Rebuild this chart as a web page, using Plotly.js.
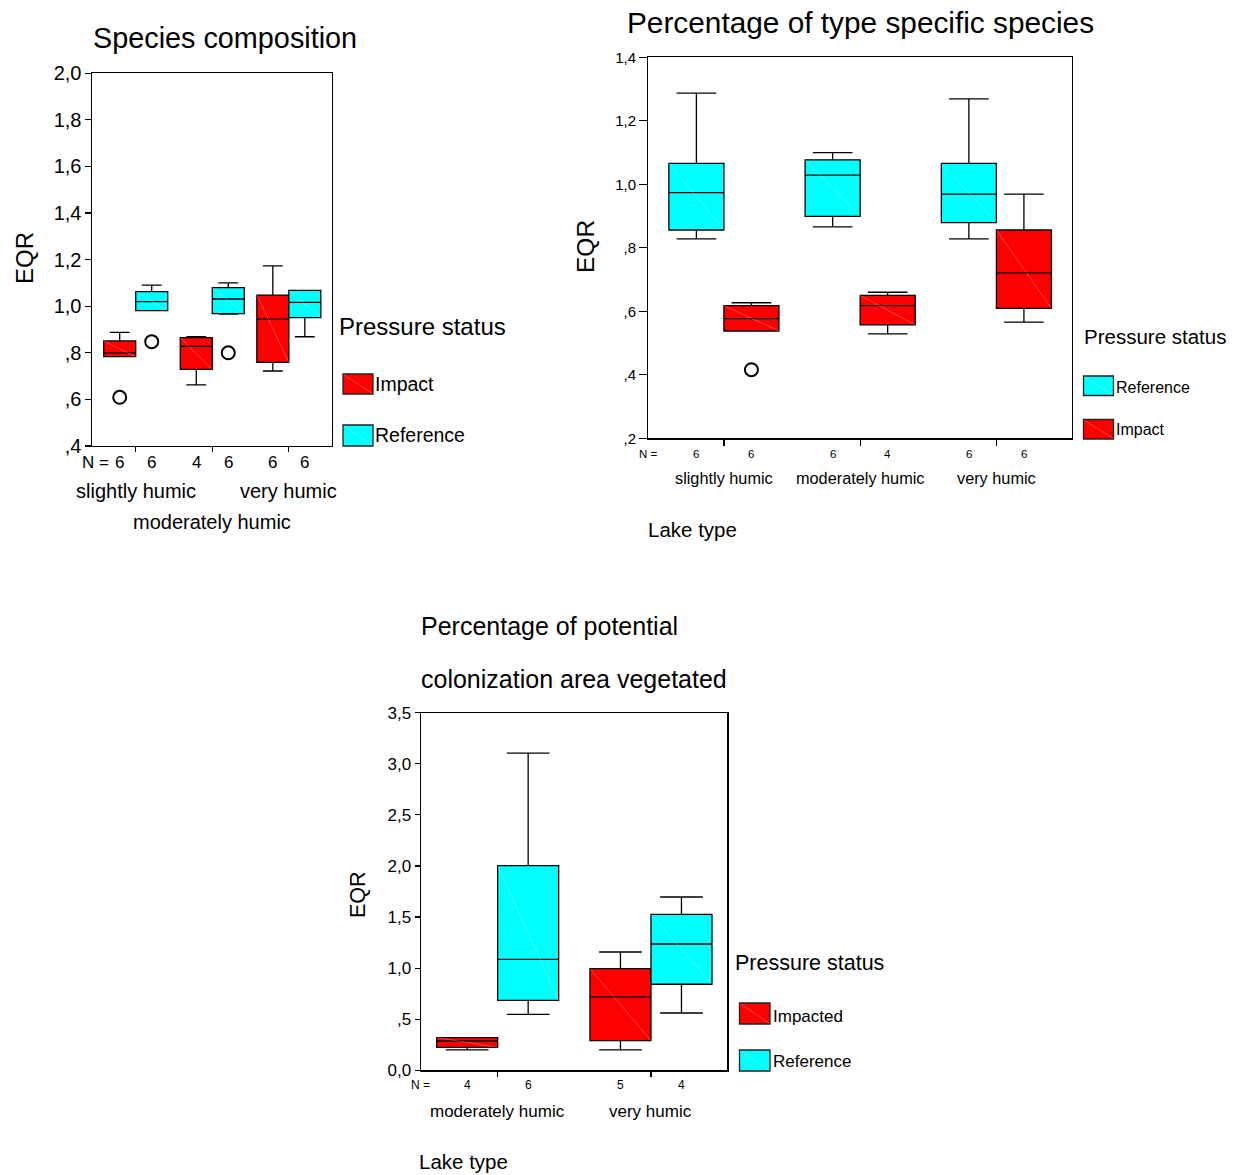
<!DOCTYPE html>
<html>
<head>
<meta charset="utf-8">
<script src="https://cdn.plot.ly/plotly-3.0.1.min.js"></script>
<style>html,body{margin:0;padding:0;background:#fff}#chart{width:1236px;height:1175px}</style>
</head>
<body>
<div id="chart"></div>
<script>
// ---------------- DATA ----------------
// Panel 1: Species composition
const categories1 = ['slightly humic', 'moderately humic', 'very humic'];
const series1Names = ['Impact', 'Reference'];
const imp1Lower  = [0.784, 0.662, 0.722];
const imp1Q1     = [0.784, 0.729, 0.759];
const imp1Median = [0.800, 0.828, 0.945];
const imp1Q3     = [0.851, 0.865, 1.048];
const imp1Upper  = [0.888, 0.869, 1.173];
const imp1N      = [6, 4, 6];
const imp1OutGroup = [0];
const imp1OutValue = [0.609];
const ref1Lower  = [0.981, 0.966, 0.869];
const ref1Q1     = [0.981, 0.968, 0.951];
const ref1Median = [1.020, 1.031, 1.017];
const ref1Q3     = [1.063, 1.080, 1.068];
const ref1Upper  = [1.091, 1.100, 1.068];
const ref1N      = [6, 6, 6];
const ref1OutGroup = [0, 1];
const ref1OutValue = [0.848, 0.800];
const yTicks1    = [0.4, 0.6, 0.8, 1.0, 1.2, 1.4, 1.6, 1.8, 2.0];
const yTickText1 = [',4', ',6', ',8', '1,0', '1,2', '1,4', '1,6', '1,8', '2,0'];

// Panel 2: Percentage of type specific species
const categories2 = ['slightly humic', 'moderately humic', 'very humic'];
const series2Names = ['Reference', 'Impact'];
const ref2Lower  = [0.828, 0.866, 0.828];
const ref2Q1     = [0.856, 0.899, 0.879];
const ref2Median = [0.974, 1.029, 0.969];
const ref2Q3     = [1.066, 1.077, 1.066];
const ref2Upper  = [1.287, 1.100, 1.269];
const ref2N      = [6, 6, 6];
const ref2OutGroup = [];
const ref2OutValue = [];
const imp2Lower  = [0.538, 0.529, 0.566];
const imp2Q1     = [0.538, 0.557, 0.609];
const imp2Median = [0.577, 0.618, 0.721];
const imp2Q3     = [0.618, 0.650, 0.856];
const imp2Upper  = [0.627, 0.660, 0.969];
const imp2N      = [6, 4, 6];
const imp2OutGroup = [0];
const imp2OutValue = [0.416];
const yTicks2    = [0.2, 0.4, 0.6, 0.8, 1.0, 1.2, 1.4];
const yTickText2 = [',2', ',4', ',6', ',8', '1,0', '1,2', '1,4'];

// Panel 3: Percentage of potential colonization area vegetated
const categories3 = ['moderately humic', 'very humic'];
const series3Names = ['Impacted', 'Reference'];
const imp3Lower  = [0.199, 0.199];
const imp3Q1     = [0.225, 0.291];
const imp3Median = [0.287, 0.718];
const imp3Q3     = [0.320, 0.995];
const imp3Upper  = [0.320, 1.158];
const imp3N      = [4, 5];
const imp3OutGroup = [];
const imp3OutValue = [];
const ref3Lower  = [0.548, 0.561];
const ref3Q1     = [0.685, 0.842];
const ref3Median = [1.086, 1.236];
const ref3Q3     = [2.003, 1.527];
const ref3Upper  = [3.105, 1.696];
const ref3N      = [6, 4];
const ref3OutGroup = [];
const ref3OutValue = [];
const yTicks3    = [0, 0.5, 1.0, 1.5, 2.0, 2.5, 3.0, 3.5];
const yTickText3 = ['0,0', ',5', '1,0', '1,5', '2,0', '2,5', '3,0', '3,5'];

// ---------------- STYLE / LAYOUT ----------------
const RED = '#FF0000', CYAN = '#00FFFF';
const W = 1236, H = 1175;
const FONT = 'Liberation Sans, Arial, sans-serif';
const px = v => v / W;
const py = v => 1 - v / H;

const traces = [];
const annotations = [];
const shapes = [];
const layout = {
  width: W, height: H,
  margin: {l: 0, r: 0, t: 0, b: 0},
  paper_bgcolor: '#fff', plot_bgcolor: '#fff',
  font: {family: FONT, color: '#000'},
  showlegend: false,
  annotations: annotations,
  shapes: shapes
};

function txt(text, x, y, size, xanchor, extra) {
  annotations.push(Object.assign({
    text: text, x: px(x), y: py(y), xref: 'paper', yref: 'paper',
    xanchor: xanchor || 'center', yanchor: 'middle', showarrow: false,
    font: {size: size, family: FONT, color: '#000'}
  }, extra || {}));
}

function panel(cfg) {
  const ax = cfg.ax;
  const xa = 'x' + ax, ya = 'y' + ax;
  const bw = cfg.boxWidth;
  cfg.series.forEach((s, k) => {
    const off = (k === 0 ? -1 : 1) * bw / 2;
    const pos = cfg.categories.map((c, i) => i + off);
    traces.push({
      type: 'box', x: pos, q1: s.q1, median: s.median, q3: s.q3,
      lowerfence: s.lower, upperfence: s.upper, width: bw,
      whiskerwidth: cfg.whisker, fillcolor: s.color,
      line: {color: '#000', width: 1.3}, name: s.name,
      xaxis: xa, yaxis: ya, hoverinfo: 'skip', boxpoints: false
    });
    // faint diagonal texture inside each box
    const dx = [], dy = [];
    pos.forEach((p, i) => { dx.push(p - bw / 2, p + bw / 2, null); dy.push(s.q3[i], s.q1[i], null); });
    traces.push({type: 'scatter', mode: 'lines', x: dx, y: dy, xaxis: xa, yaxis: ya,
      line: {color: 'rgba(255,255,255,0.28)', width: 1}, hoverinfo: 'skip'});
    if (s.outGroup.length) {
      traces.push({type: 'scatter', mode: 'markers', x: s.outGroup.map(g => g + off), y: s.outValue,
        xaxis: xa, yaxis: ya, hoverinfo: 'skip',
        marker: {symbol: 'circle-open', size: cfg.outSize, color: '#000', line: {width: 2, color: '#000'}}});
    }
    // N counts
    pos.forEach((p, i) => {
      annotations.push({text: String(s.n[i]), x: p, xref: xa, y: py(cfg.nY), yref: 'paper',
        showarrow: false, xanchor: 'center', yanchor: 'middle', font: {size: cfg.nSize, family: FONT, color: '#000'}});
    });
    // legend swatch
    const sy = cfg.legSwY[k];
    shapes.push({type: 'rect', xref: 'paper', yref: 'paper', x0: px(cfg.legSwX[0]), x1: px(cfg.legSwX[1]),
      y0: py(sy[1]), y1: py(sy[0]), fillcolor: s.color, line: {color: '#222', width: 1.3}});
    shapes.push({type: 'line', xref: 'paper', yref: 'paper', x0: px(cfg.legSwX[0] + 1), x1: px(cfg.legSwX[1] - 1),
      y0: py(sy[0] + 1), y1: py(sy[1] - 1), line: {color: 'rgba(255,255,255,0.28)', width: 1}});
    txt(s.name, cfg.legLabX, cfg.legLabY[k], cfg.legLabSize, 'left');
  });
  annotations.push({text: 'N =', x: px(cfg.nLabelX), xref: 'paper', y: py(cfg.nY), yref: 'paper',
    showarrow: false, xanchor: 'left', yanchor: 'middle', font: {size: cfg.nSize, family: FONT, color: '#000'}});
  cfg.categories.forEach((c, i) => {
    annotations.push({text: c, x: i, xref: xa, y: py(cfg.catY[cfg.catRow[i]]), yref: 'paper',
      showarrow: false, xanchor: 'center', yanchor: 'middle', font: {size: cfg.catSize, family: FONT, color: '#000'}});
  });
  txt('Pressure status', cfg.legTitleX, cfg.legTitleY, cfg.legTitleSize, 'left');
  txt('EQR', cfg.eqrX, cfg.eqrY, cfg.eqrSize, 'center', {textangle: -90});

  layout['xaxis' + ax] = {
    domain: [px(cfg.xdom[0]), px(cfg.xdom[1])], range: cfg.xrange, anchor: ya,
    showline: true, mirror: true, linecolor: '#000', linewidth: 1.2,
    ticks: 'outside', ticklen: cfg.xticklen, tickcolor: '#000', tickwidth: 1.2,
    tickvals: cfg.categories.map((c, i) => i), showticklabels: false,
    showgrid: false, zeroline: false, fixedrange: true
  };
  layout['yaxis' + ax] = {
    domain: [py(cfg.ydom[1]), py(cfg.ydom[0])], range: cfg.yrange, anchor: xa,
    showline: true, mirror: true, linecolor: '#000', linewidth: 1.2,
    ticks: 'outside', ticklen: cfg.yticklen, tickcolor: '#000', tickwidth: 1.2,
    tickvals: cfg.yTicks, ticktext: cfg.yTickText, ticklabelstandoff: cfg.standoff,
    tickfont: {size: cfg.tickSize, family: FONT, color: '#000'},
    showgrid: false, zeroline: false, fixedrange: true
  };
}

panel({
  ax: '', categories: categories1,
  series: [
    {name: series1Names[0], color: RED, lower: imp1Lower, q1: imp1Q1, median: imp1Median, q3: imp1Q3, upper: imp1Upper, n: imp1N, outGroup: imp1OutGroup, outValue: imp1OutValue},
    {name: series1Names[1], color: CYAN, lower: ref1Lower, q1: ref1Q1, median: ref1Median, q3: ref1Q3, upper: ref1Upper, n: ref1N, outGroup: ref1OutGroup, outValue: ref1OutValue}
  ],
  xdom: [91.7, 331.7], ydom: [73.3, 446], xrange: [-0.575, 2.56], yrange: [0.4, 2.0],
  yTicks: yTicks1, yTickText: yTickText1, tickSize: 20, yticklen: 6, xticklen: 5, standoff: -1,
  boxWidth: 0.418, whisker: 0.62, outSize: 13,
  nY: 462, nSize: 17, nLabelX: 80,
  catY: [491, 522], catRow: [0, 1, 0], catSize: 20,
  legTitleX: 337, legTitleY: 326.5, legTitleSize: 24,
  legSwX: [343, 373], legSwY: [[374, 394], [425, 446]], legLabX: 373, legLabY: [384, 435], legLabSize: 19.5,
  eqrX: 24, eqrY: 258, eqrSize: 24
});
txt('Species composition', 224.5, 38, 28.8, 'center');

panel({
  ax: '2', categories: categories2,
  series: [
    {name: series2Names[0], color: CYAN, lower: ref2Lower, q1: ref2Q1, median: ref2Median, q3: ref2Q3, upper: ref2Upper, n: ref2N, outGroup: ref2OutGroup, outValue: ref2OutValue},
    {name: series2Names[1], color: RED, lower: imp2Lower, q1: imp2Q1, median: imp2Median, q3: imp2Q3, upper: imp2Upper, n: imp2N, outGroup: imp2OutGroup, outValue: imp2OutValue}
  ],
  xdom: [648.3, 1072], ydom: [57.3, 438.3], xrange: [-0.555, 2.555], yrange: [0.2, 1.4],
  yTicks: yTicks2, yTickText: yTickText2, tickSize: 15, yticklen: 8, xticklen: 6, standoff: 0,
  boxWidth: 0.404, whisker: 0.72, outSize: 13,
  nY: 453.5, nSize: 11.5, nLabelX: 637,
  catY: [478], catRow: [0, 0, 0], catSize: 16.3,
  legTitleX: 1082, legTitleY: 336.7, legTitleSize: 20.5,
  legSwX: [1083.5, 1113.5], legSwY: [[376, 395.5], [419.5, 439]], legLabX: 1114, legLabY: [388, 430], legLabSize: 16,
  eqrX: 585, eqrY: 247, eqrSize: 24.5
});
txt('Percentage of type specific species', 860.5, 22, 29.8, 'center');
txt('Lake type', 646, 529, 20.5, 'left');

panel({
  ax: '3', categories: categories3,
  series: [
    {name: series3Names[0], color: RED, lower: imp3Lower, q1: imp3Q1, median: imp3Median, q3: imp3Q3, upper: imp3Upper, n: imp3N, outGroup: imp3OutGroup, outValue: imp3OutValue},
    {name: series3Names[1], color: CYAN, lower: ref3Lower, q1: ref3Q1, median: ref3Median, q3: ref3Q3, upper: ref3Upper, n: ref3N, outGroup: ref3OutGroup, outValue: ref3OutValue}
  ],
  xdom: [420.7, 727.3], ydom: [712.7, 1070.3], xrange: [-0.502, 1.498], yrange: [0, 3.5],
  yTicks: yTicks3, yTickText: yTickText3, tickSize: 17, yticklen: 5, xticklen: 5, standoff: 0,
  boxWidth: 0.398, whisker: 0.7, outSize: 12,
  nY: 1085, nSize: 12, nLabelX: 409,
  catY: [1111], catRow: [0, 0], catSize: 17,
  legTitleX: 733, legTitleY: 962.7, legTitleSize: 21.5,
  legSwX: [739.5, 770], legSwY: [[1003, 1024], [1050, 1071]], legLabX: 771, legLabY: [1016, 1061], legLabSize: 17,
  eqrX: 358, eqrY: 895, eqrSize: 21.5
});
txt('Percentage of potential', 419, 626, 25, 'left');
txt('colonization area vegetated', 419, 679, 25, 'left');
txt('Lake type', 418, 1174, 20.5, 'left', {yanchor: 'bottom', borderpad: 0});

Plotly.newPlot('chart', traces, layout, {staticPlot: true, displayModeBar: false});
</script>
</body>
</html>
